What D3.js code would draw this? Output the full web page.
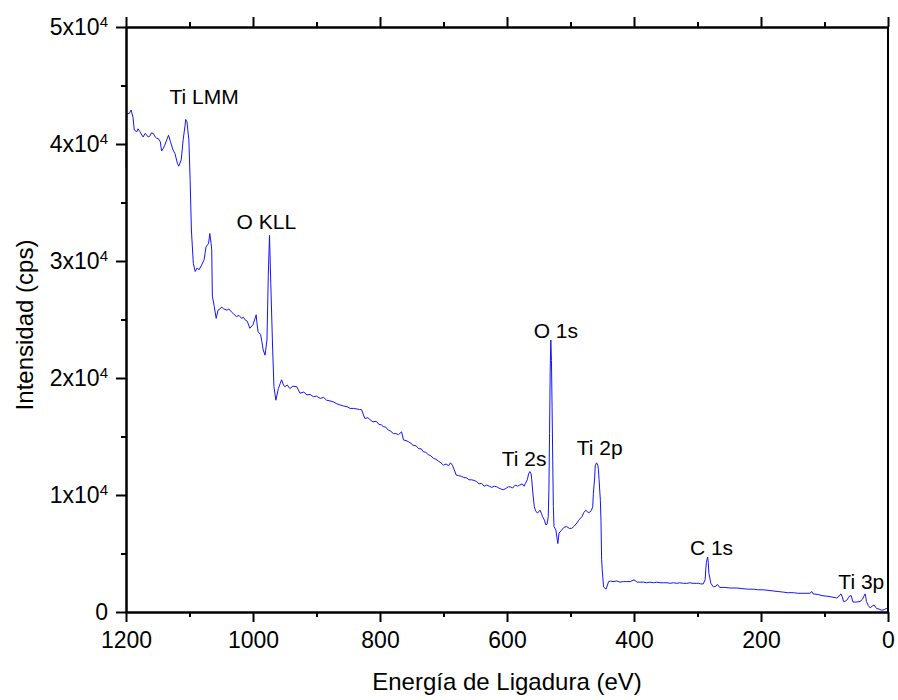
<!DOCTYPE html>
<html><head><meta charset="utf-8">
<script src="https://cdn.jsdelivr.net/npm/d3@7"></script>
<style>body{margin:0;background:#fff} text{font-family:"Liberation Sans",Arial,sans-serif;fill:#000}</style>
</head><body><svg id="c" width="898" height="700"></svg>
<script>
const energy = [1200,1199,1195,1192,1189,1187,1183,1181,1178,1176,1173,1170,1167,1165,1162,1160,1157,1154,1152,1149,1146,1144,1141,1139,1133,1130,1126,1123,1119,1117,1113,1110,1107,1106,1104,1101,1099,1097,1094,1091,1088,1085,1081,1077,1074,1070,1068,1066,1065,1064,1061,1058,1055,1049,1046,1041,1038,1034,1030,1026,1022,1018,1015,1013,1009,1005,1000,995,994,992,988,986,984,981,978,976,974,972,969,967,964,960,957,955,952,950,946,942,937,931,926,920,915,910,905,900,894,889,884,879,873,868,863,857,852,847,842,836,832,829,827,824,819,816,811,806,802,798,795,791,787,783,779,775,771,766,763,759,755,751,748,743,739,735,732,728,724,720,716,712,708,704,700,696,692,689,686,683,680,676,672,668,663,660,656,652,648,644,640,636,632,628,624,620,616,613,609,606,602,598,595,591,587,583,580,576,573,571,568,566,564,562,561,559,557,555,552,548,546,544,541,539,537,535,534,533,532,531,530,529,528,527,526,523,520,518,514,510,506,502,498,494,490,487,482,479,476,472,469,467,465,464,462,461,459,457,456,455,453,452,451,450,448,444,440,437,433,427,422,417,412,406,400,395,391,385,380,375,369,364,359,354,348,343,338,332,328,322,317,312,307,302,298,295,291,288,287,286,284,283,282,280,279,275,271,269,266,265,257,249,238,230,220,212,205,197,189,181,173,165,158,149,142,134,126,123,120,118,110,104,96,90,81,78,76,74,72,70,68,65,62,61,58,57,55,50,44,40,38,36,35,34,31,28,25,22,18,14,10,6,3,0];
const intensity = [38000,42600,42600,42900,42300,41200,41050,41300,41050,40850,40600,40900,40750,40600,40700,40950,40900,40600,40500,40450,40200,39400,39650,39900,40750,40200,39500,39200,38350,38100,38650,40350,41600,42100,41900,40350,36900,32650,29800,29100,29400,29250,29650,30100,31200,31500,32350,31500,30950,27000,26100,25100,25800,26050,25900,25800,25900,25650,25450,25250,25350,25100,25200,25000,24850,24250,24550,25400,24800,23950,23700,23100,22400,21950,23250,28650,32200,28100,22400,19250,18100,19100,19550,19850,19400,19250,19400,19100,19300,19250,18700,18800,18550,18600,18400,18450,18250,18350,18100,18050,17950,17800,17700,17600,17550,17400,17400,17350,17300,17300,17000,16550,16600,16450,16250,16300,16050,16000,15850,15800,15550,15450,15250,15250,15150,15400,14700,14650,14550,14400,14250,14200,13950,13950,13700,13650,13450,13350,13150,13050,12900,12750,12550,12650,12500,12750,12550,12150,11700,11650,11600,11500,11450,11300,11300,11250,11150,10950,11000,10750,10850,10750,10650,10750,10700,10600,10500,10450,10550,10700,10700,10600,10850,10750,10850,10950,10750,11000,11300,11800,12000,11800,11300,10000,9000,8650,8450,8700,8450,8150,7850,7450,7500,8150,10500,15250,20500,23250,21500,17500,13000,9000,7300,7000,5850,6750,7000,7250,7300,7150,7150,7350,7600,7850,8150,8500,8700,8500,8550,8700,9000,10150,11450,12500,12750,12550,12150,11300,9550,7850,4500,3600,2150,1950,2600,2650,2600,2650,2550,2600,2600,2600,2750,2550,2550,2550,2500,2550,2500,2550,2500,2500,2500,2450,2500,2450,2500,2450,2450,2500,2450,2450,2450,2400,2400,2750,3600,4250,4700,4200,3300,2750,2450,2150,2200,2350,2200,2100,2100,2050,2050,2000,1950,1950,1900,1900,1850,1800,1750,1700,1650,1650,1600,1600,1600,1600,1750,1550,1500,1400,1350,1300,1200,1300,1450,1550,1300,900,900,1000,1250,1350,1400,1200,850,850,900,1100,1350,1550,1300,900,550,350,500,600,300,250,150,200,300,300];
const xMajorTicks = [1200,1000,800,600,400,200,0];
const xMinorTicks = [1100,900,700,500,300,100];
const yMajorTicks = [0,10000,20000,30000,40000,50000];
const yMinorTicks = [5000,15000,25000,35000,45000];
const yTickMantissa = ["0","1x10","2x10","3x10","4x10","5x10"];
const yTickExponent = ["","4","4","4","4","4"];
const peakLabels = ["Ti LMM","O KLL","O 1s","Ti 2s","Ti 2p","C 1s","Ti 3p"];
const peakEnergy = [1077,979,523,573,454,278,42];
const peakIntensity = [43450,32700,23400,12500,13400,4850,2000];
const xTitle = "Energía de Ligadura (eV)";
const yTitle = "Intensidad (cps)";

const L=126,R=888,T=27,B=612;
const svg=d3.select("#c");
const x=d3.scaleLinear().domain([1200,0]).range([L,R]);
const y=d3.scaleLinear().domain([0,50000]).range([B,T]);

const data=energy.map((e,i)=>({e:e,v:intensity[i]}));
svg.append("path").datum(data)
  .attr("fill","none").attr("stroke","#1414ff").attr("stroke-width",1)
  .attr("stroke-linejoin","round")
  .attr("d",d3.line().x(d=>x(d.e)).y(d=>y(d.v)));

function styleAxis(g){
  g.selectAll(".domain").attr("stroke","#000").attr("stroke-width",2);
  g.selectAll(".tick line").attr("stroke","#000").attr("stroke-width",2);
  g.selectAll("text").style("font-size","23px").attr("fill","#000");
}
// bottom
const gb=svg.append("g").attr("transform",`translate(0,${B})`)
  .call(d3.axisBottom(x).tickValues(xMajorTicks).tickSize(10).tickPadding(10).tickSizeOuter(0).tickFormat(d3.format("d")));
styleAxis(gb);
const gbm=svg.append("g").attr("transform",`translate(0,${B})`)
  .call(d3.axisBottom(x).tickValues(xMinorTicks).tickSize(5).tickSizeOuter(0).tickFormat(""));
styleAxis(gbm);
// top
const gt=svg.append("g").attr("transform",`translate(0,${T})`)
  .call(d3.axisTop(x).tickValues(xMajorTicks).tickSize(10).tickSizeOuter(0).tickFormat(""));
styleAxis(gt);
const gtm=svg.append("g").attr("transform",`translate(0,${T})`)
  .call(d3.axisTop(x).tickValues(xMinorTicks).tickSize(5).tickSizeOuter(0).tickFormat(""));
styleAxis(gtm);
// left
const gl=svg.append("g").attr("transform",`translate(${L},0)`)
  .call(d3.axisLeft(y).tickValues(yMajorTicks).tickSize(10).tickPadding(8).tickSizeOuter(0).tickFormat(""));
styleAxis(gl);
gl.selectAll(".tick text").each(function(d,i){
  const t=d3.select(this);
  t.text(null);
  t.append("tspan").text(yTickMantissa[i]);
  if(yTickExponent[i]) t.append("tspan").attr("dy",-8).style("font-size","15px").text(yTickExponent[i]);
});
const glm=svg.append("g").attr("transform",`translate(${L},0)`)
  .call(d3.axisLeft(y).tickValues(yMinorTicks).tickSize(5).tickSizeOuter(0).tickFormat(""));
styleAxis(glm);
// right
svg.append("line").attr("x1",R).attr("x2",R).attr("y1",T).attr("y2",B)
  .attr("stroke","#000").attr("stroke-width",2);

// titles
svg.append("text").attr("x",(L+R)/2).attr("y",690).attr("text-anchor","middle")
  .style("font-size","24px").text(xTitle);
svg.append("text").attr("transform",`translate(33,325) rotate(-90)`).attr("text-anchor","middle")
  .style("font-size","24px").text(yTitle);

// peak labels
svg.append("g").selectAll("text").data(peakLabels).join("text")
  .attr("x",(d,i)=>x(peakEnergy[i])).attr("y",(d,i)=>y(peakIntensity[i]))
  .attr("text-anchor","middle").style("font-size","21px").text(d=>d);
</script></body></html>
